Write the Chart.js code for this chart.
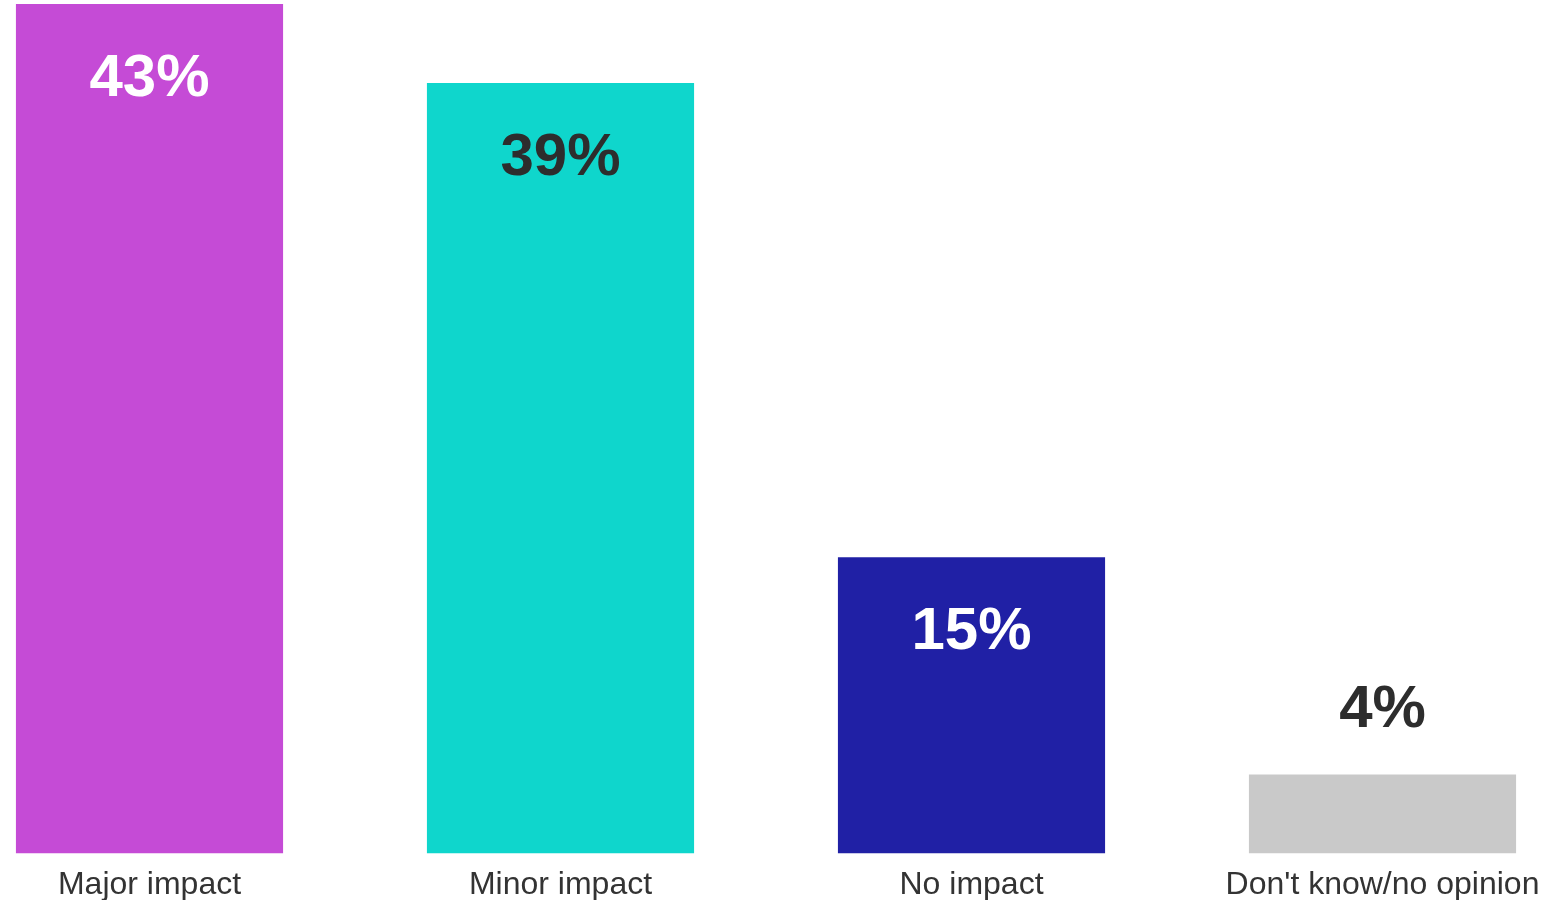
<!DOCTYPE html>
<html>
<head>
<meta charset="utf-8">
<script src="https://cdn.jsdelivr.net/npm/chart.js@4/dist/chart.umd.min.js"></script>
<style>
  html, body { margin: 0; padding: 0; background: #ffffff; overflow: hidden; width: 1566px; height: 900px; }
  #wrap { position: absolute; left: -56px; top: 0; width: 1644px; height: 916px; }
</style>
</head>
<body>
<div id="wrap"><canvas id="c"></canvas></div>
<script>
const categories = ["Major impact", "Minor impact", "No impact", "Don't know/no opinion"];
const values = [43, 39, 15, 4];

const barColors = ["#C54BD6", "#0FD6CC", "#2020A5", "#C9C9C9"];
const labelColors = ["#ffffff", "#2d2d2d", "#ffffff", "#2d2d2d"];
const labelInside = [true, true, true, false];

const valueLabels = {
  id: 'valueLabels',
  afterDatasetsDraw(chart) {
    const ctx = chart.ctx;
    const meta = chart.getDatasetMeta(0);
    ctx.save();
    ctx.font = "bold 60px 'Liberation Sans', Arial, sans-serif";
    ctx.textAlign = 'center';
    ctx.textBaseline = 'middle';
    meta.data.forEach((bar, i) => {
      const v = chart.data.datasets[0].data[i];
      const y = labelInside[i] ? bar.y + 75 : bar.y - 64;
      ctx.fillStyle = labelColors[i];
      ctx.fillText(v + '%', bar.x, y);
    });
    ctx.restore();
  }
};

new Chart(document.getElementById('c'), {
  type: 'bar',
  data: {
    labels: categories,
    datasets: [{
      data: values,
      backgroundColor: barColors,
      borderWidth: 0,
      categoryPercentage: 1.0,
      barPercentage: 0.65
    }]
  },
  options: {
    responsive: true,
    maintainAspectRatio: false,
    animation: false,
    layout: { padding: { top: 4, left: 0, right: 0, bottom: 0 } },
    plugins: { legend: { display: false }, tooltip: { enabled: false } },
    scales: {
      y: { display: false, min: 0, max: 43 },
      x: {
        grid: { display: false, drawTicks: false },
        border: { display: false },
        ticks: {
          color: '#333333',
          font: { family: "'Liberation Sans', Arial, sans-serif", size: 32 },
          padding: 12,
          maxRotation: 0,
          autoSkip: false
        }
      }
    }
  },
  plugins: [valueLabels]
});
</script>
</body>
</html>
